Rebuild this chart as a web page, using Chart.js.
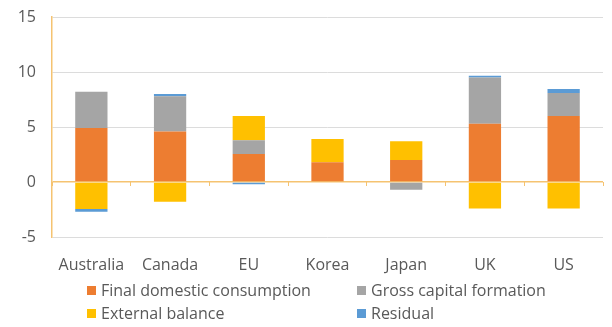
<!DOCTYPE html>
<html>
<head>
<meta charset="utf-8">
<script src="https://cdn.jsdelivr.net/npm/chart.js@4/dist/chart.umd.min.js"></script>
<style>
    html, body { margin: 0; padding: 0; background: #fff; }
    #wrap { position: relative; width: 612px; height: 327px; }
    #legend {
        position: absolute; left: 87px; top: 280px;
        display: grid; grid-template-columns: 270px 220px; row-gap: 3px;
        font-family: "Open Sans", "Liberation Sans", sans-serif; font-size: 16px; color: #595959;
    }
    #legend .item { display: flex; align-items: center; height: 20px; white-space: nowrap; }
    #legend .box { width: 9px; height: 9px; margin-right: 5px; }
</style>
</head>
<body>
<div id="wrap">
    <canvas id="contribChart" width="612" height="327"></canvas>
    <div id="legend"></div>
</div>
<script>
const countries = ['Australia', 'Canada', 'EU', 'Korea', 'Japan', 'UK', 'US'];
const finalConsumption = [4.9, 4.6, 2.55, 1.8, 2.0, 5.3, 6.0];
const grossCapital = [3.3, 3.2, 1.25, 0, -0.7, 4.2, 2.1];
const externalBalance = [-2.45, -1.8, 2.2, 2.1, 1.7, -2.4, -2.4];
const residual = [-0.25, 0.2, -0.2, 0, 0, 0.15, 0.35];
const yTicks = [-5, 0, 5, 10, 15];

const axisColor = '#F5C371';
const textColor = '#595959';
const fontFamily = '"Open Sans", "Liberation Sans", sans-serif';

function makeSet(label, data, color) {
    return {
        label: label,
        data: data,
        backgroundColor: color,
        borderWidth: 0,
        barPercentage: 0.41,
        categoryPercentage: 1.0,
        stack: 'all'
    };
}

const ctx = document.getElementById('contribChart').getContext('2d');

window.myChart = new Chart(ctx, {
    type: 'bar',
    data: {
        labels: countries,
        datasets: [
            makeSet('Final domestic consumption', finalConsumption, '#ED7D31'),
            makeSet('Gross capital formation', grossCapital, '#A5A5A5'),
            makeSet('External balance', externalBalance, '#FFC000'),
            makeSet('Residual', residual, '#5B9BD5')
        ]
    },
    options: {
        responsive: false,
        animation: false,
        layout: { padding: { left: 0, right: 9, top: 17, bottom: 50 } },
        scales: {
            x: {
                stacked: true,
                grid: { display: false },
                border: { display: false },
                ticks: {
                    color: textColor,
                    font: { family: fontFamily, size: 16 },
                    padding: 11,
                    maxRotation: 0
                },
                afterFit: s => { s.height = 40; }
            },
            // second category axis sitting on zero, for the baseline tick marks
            xZero: {
                type: 'category',
                labels: countries,
                position: { y: 0 },
                offset: true,
                grid: {
                    offset: true,
                    drawOnChartArea: false,
                    color: axisColor,
                    tickLength: 4
                },
                border: { display: false },
                ticks: { display: false }
            },
            y: {
                stacked: true,
                min: -5,
                max: 15,
                afterBuildTicks: s => { s.ticks = yTicks.map(v => ({ value: v })); },
                grid: {
                    color: c => c.tick && c.tick.value === 0 ? axisColor : '#DCDCDC',
                    lineWidth: c => c.tick && c.tick.value === 0 ? 1.5 : 1,
                    tickColor: 'rgba(0,0,0,0)',
                    tickLength: 16
                },
                border: { color: axisColor, width: 1.5 },
                ticks: {
                    color: textColor,
                    font: { family: fontFamily, size: 16 },
                    padding: 0
                },
                afterFit: s => { s.width = 52; }
            }
        },
        plugins: {
            legend: { display: false },
            tooltip: { enabled: false }
        }
    }
});

// legend as a 2x2 grid under the plot
const legendEl = document.getElementById('legend');
window.myChart.data.datasets.forEach(ds => {
    const item = document.createElement('div');
    item.className = 'item';
    const box = document.createElement('span');
    box.className = 'box';
    box.style.background = ds.backgroundColor;
    const txt = document.createElement('span');
    txt.textContent = ds.label;
    item.appendChild(box);
    item.appendChild(txt);
    legendEl.appendChild(item);
});
</script>
</body>
</html>
